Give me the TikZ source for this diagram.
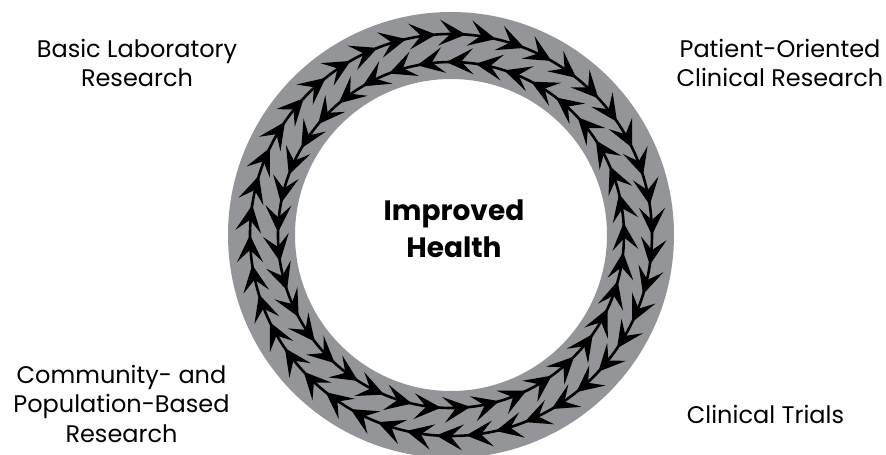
\documentclass[tikz,border=0pt]{standalone}
\usepackage{fontspec}
\setmainfont{Poppins}
\usepackage{xcolor}
\definecolor{ringgray}{RGB}{147,149,152}

\tikzset{
  label/.style={align=center, font=\fontsize{24}{29.5}\selectfont},
  centre/.style={align=center, font=\fontsize{28}{37}\selectfont\bfseries},
  chain/.style={line width=2.6}
}

\begin{document}
\begin{tikzpicture}[x=1pt, y=1pt]
	\useasboundingbox (-451,-220) rectangle (435,235);

	% grey ring
	\fill[ringgray, even odd rule] (0,0) circle (223) (0,0) circle (156);

	% outer chain, running clockwise
	\draw[chain] (0,0) circle (201);
	\foreach \i [evaluate=\i as \a using \i*360/42] in {1,...,42}
	\fill[shift={(\a:201)}, rotate=\a-90] (0,0) -- (-27,13) -- (-15,0) -- (-27,-13) -- cycle;

	% inner chain, running counterclockwise
	\draw[chain] (0,0) circle (173);
	\foreach \i [evaluate=\i as \a using \i*360/37+4] in {1,...,37}
	\fill[shift={(\a:173)}, rotate=\a+90] (0,0) -- (-27,13) -- (-15,0) -- (-27,-13) -- cycle;

	% labels round the ring
	\node[centre] (health) at (3,6) {Improved\\Health};
	\node[label] (basic) at (-314,172) {Basic Laboratory\\Research};
	\node[label] (patient) at (329,172) {Patient-Oriented\\Clinical Research};
	\node[label] (community) at (-329.5,-168.5) {Community- and\\Population-Based\\Research};
	\node[label] (trials) at (314.5,-179) {Clinical Trials};
\end{tikzpicture}
\end{document}
